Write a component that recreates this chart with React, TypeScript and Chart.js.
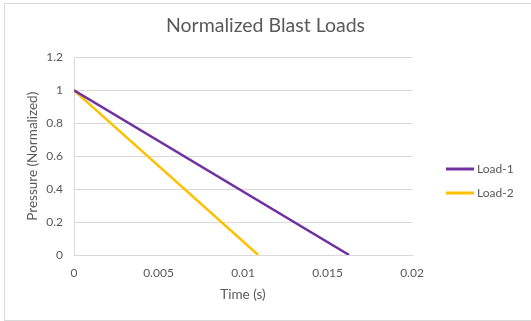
import React, { useEffect, useRef } from "react";
import { Chart, registerables } from "chart.js";

Chart.register(...registerables);

const chartTitle = "Normalized Blast Loads";
const xAxisTitle = "Time (s)";
const yAxisTitle = "Pressure (Normalized)";
const seriesNames = ["Load-1", "Load-2"];
const seriesColors = ["#7030A0", "#FFC000"];
const load1Time = [0, 0.01628];
const load1Pressure = [1, 0];
const load2Time = [0, 0.0109];
const load2Pressure = [1, 0];
const xTicks = [0, 0.005, 0.01, 0.015, 0.02];
const yTicks = [0, 0.2, 0.4, 0.6, 0.8, 1, 1.2];

const FONT = "Lato, 'Open Sans', sans-serif";
const TEXT = "#595959";
const GRID = "#D9D9D9";

const fmt = (v: number) => String(Number(Number(v).toFixed(4)));

const borderPlugin = {
  id: "outerBorder",
  beforeDraw(chart: any) {
    const { ctx, width, height } = chart;
    ctx.save();
    ctx.fillStyle = "#FFFFFF";
    ctx.fillRect(0, 0, width, height);
    ctx.strokeStyle = GRID;
    ctx.lineWidth = 1;
    ctx.strokeRect(4.5, 3.5, width + 10, height - 4);
    ctx.restore();
  },
};

const legendPlugin = {
  id: "sideLegend",
  afterDraw(chart: any) {
    const { ctx } = chart;
    const ys = [169, 193];
    ctx.save();
    chart.data.datasets.forEach((ds: any, i: number) => {
      const y = ys[i];
      ctx.strokeStyle = ds.borderColor;
      ctx.lineWidth = 3;
      ctx.beginPath();
      ctx.moveTo(446, y);
      ctx.lineTo(474, y);
      ctx.stroke();
      ctx.fillStyle = TEXT;
      ctx.font = `12px ${FONT}`;
      ctx.textAlign = "left";
      ctx.textBaseline = "middle";
      ctx.fillText(ds.label, 477, y);
    });
    ctx.restore();
  },
};

export default function App() {
  const ref = useRef<HTMLCanvasElement | null>(null);
  useEffect(() => {
    document.body.style.margin = "0";
    if (!ref.current) return;
    const toPts = (xs: number[], ys: number[]) => xs.map((x, i) => ({ x, y: ys[i] }));
    const chart = new Chart(ref.current, {
      type: "scatter",
      data: {
        datasets: [
          {
            label: seriesNames[0],
            data: toPts(load1Time, load1Pressure),
            borderColor: seriesColors[0],
            backgroundColor: seriesColors[0],
            showLine: true,
            borderWidth: 2.5,
            pointRadius: 0,
          },
          {
            label: seriesNames[1],
            data: toPts(load2Time, load2Pressure),
            borderColor: seriesColors[1],
            backgroundColor: seriesColors[1],
            showLine: true,
            borderWidth: 2.5,
            pointRadius: 0,
          },
        ],
      },
      options: {
        animation: false,
        responsive: false,
        devicePixelRatio: 1,
        layout: { padding: { left: 0, right: 0, top: 0, bottom: 0 } },
        plugins: {
          legend: { display: false },
          tooltip: { enabled: false },
          title: {
            display: true,
            text: chartTitle,
            color: TEXT,
            font: { family: FONT, size: 19.5, weight: "normal" },
            padding: { top: 14, bottom: 20 },
          },
        },
        scales: {
          x: {
            type: "linear",
            min: xTicks[0],
            max: xTicks[xTicks.length - 1],
            afterBuildTicks: (s: any) => {
              s.ticks = xTicks.map((v) => ({ value: v }));
            },
            afterFit: (s: any) => {
              s.height = 66;
            },
            grid: { display: false, drawTicks: false },
            border: { display: true, color: GRID, width: 1 },
            ticks: {
              color: TEXT,
              font: { family: FONT, size: 12 },
              padding: 11,
              maxRotation: 0,
              callback: (v: any) => fmt(v),
            },
            title: {
              display: true,
              text: xAxisTitle,
              color: TEXT,
              font: { family: FONT, size: 13.5 },
              padding: { top: 0, bottom: 18 },
            },
          },
          y: {
            type: "linear",
            min: yTicks[0],
            max: yTicks[yTicks.length - 1],
            afterBuildTicks: (s: any) => {
              s.ticks = yTicks.map((v) => ({ value: v }));
            },
            afterFit: (s: any) => {
              s.width = 74;
            },
            grid: { color: GRID, drawTicks: false, lineWidth: 1 },
            border: { display: true, color: GRID, width: 1 },
            ticks: {
              color: TEXT,
              font: { family: FONT, size: 12 },
              padding: 11,
              callback: (v: any) => fmt(v),
            },
            title: {
              display: true,
              text: yAxisTitle,
              color: TEXT,
              font: { family: FONT, size: 13.5 },
              padding: { top: 25, bottom: 0 },
            },
          },
          legendSpace: {
            type: "linear",
            position: "right",
            min: 0,
            max: 1,
            afterFit: (s: any) => {
              s.width = 119;
            },
            grid: { display: false, drawTicks: false },
            border: { display: false },
            ticks: { display: false },
          },
        },
      },
      plugins: [borderPlugin, legendPlugin],
    } as any);
    return () => chart.destroy();
  }, []);
  return (
    <div style={{ width: 531, height: 321 }}>
      <canvas ref={ref} width={531} height={321} style={{ display: "block" }} />
    </div>
  );
}
